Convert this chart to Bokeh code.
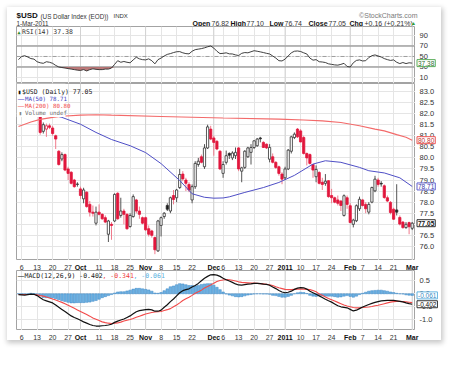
import numpy as np
import pandas as pd
from bokeh.plotting import figure
from bokeh.layouts import column, row
from bokeh.models import FixedTicker, Range1d, Label, BoxAnnotation, Span
from bokeh.embed import file_html
from bokeh.resources import INLINE

# ---------------- data ----------------
dates = pd.bdate_range("2010-09-03", "2011-03-01")

opens = [82.55, 82.35, 82.40, 82.90, 82.60, 82.80, 82.60, 81.90, 81.20, 81.30,
         81.45, 81.35, 81.00, 80.30, 79.95, 80.15, 79.50, 79.35, 79.00, 78.80,
         78.60, 78.15, 78.45, 77.90, 77.55, 77.05, 77.55, 77.45, 77.30, 76.55,
         77.00, 77.15, 78.40, 77.40, 77.60, 77.45, 76.90, 77.35, 78.10, 77.60,
         77.30, 77.30, 76.80, 76.70, 76.40, 75.80, 76.95, 77.35, 77.85, 77.60,
         78.30, 78.20, 78.66, 79.27, 79.00, 78.80, 78.10, 78.70, 79.70, 80.05,
         79.60, 80.45, 81.30, 80.90, 80.75, 80.30, 79.30, 79.80, 80.20, 80.00,
         80.10, 80.45, 79.40, 79.57, 80.05, 80.25, 80.47, 80.55, 80.90, 80.70,
         80.62, 79.94, 80.05, 79.80, 79.60, 79.27, 79.10, 79.50, 80.30, 80.92,
         81.30, 81.22, 80.92, 80.20, 80.15, 79.70, 79.15, 79.34, 78.90, 78.85,
         78.97, 78.30, 78.20, 78.10, 78.05, 77.40, 78.20, 77.84, 77.00, 77.16,
         77.70, 78.10, 77.90, 77.55, 78.00, 78.51, 79.00, 78.85, 78.74, 78.20,
         77.99, 77.68, 77.65, 77.31, 77.10, 76.85, 77.08, 76.82]
highs = [82.75, 82.50, 83.00, 83.05, 82.95, 83.10, 82.65, 81.95, 81.60, 81.55,
         81.55, 81.45, 81.05, 80.35, 80.25, 80.20, 79.60, 79.40, 79.05, 78.90,
         78.70, 78.65, 78.50, 78.05, 77.85, 77.80, 77.90, 77.50, 77.40, 77.20,
         77.10, 78.40, 78.45, 78.20, 77.70, 77.50, 77.50, 78.35, 78.15, 77.80,
         77.35, 77.35, 76.95, 76.75, 76.45, 77.20, 77.35, 77.55, 77.95, 78.25,
         78.55, 78.60, 79.50, 79.40, 79.10, 78.90, 78.80, 79.85, 80.00, 80.15,
         80.62, 81.50, 81.45, 81.00, 80.80, 80.35, 79.85, 80.33, 80.25, 80.30,
         80.47, 80.50, 79.60, 80.35, 80.50, 80.62, 80.80, 80.90, 80.95, 80.75,
         80.65, 80.62, 80.20, 79.85, 79.65, 79.35, 79.60, 80.40, 81.00, 81.15,
         81.35, 81.30, 81.00, 80.24, 80.20, 79.72, 79.66, 79.40, 79.10, 79.27,
         79.00, 78.60, 78.25, 78.30, 78.10, 78.35, 78.30, 77.95, 77.25, 77.90,
         78.25, 78.15, 78.00, 78.00, 78.70, 79.19, 79.10, 78.95, 78.80, 78.30,
         78.05, 77.75, 78.81, 77.40, 77.15, 77.10, 77.12, 77.10]
lows = [82.25, 82.20, 82.35, 82.50, 82.50, 82.60, 81.95, 81.05, 81.10, 80.95,
        81.30, 81.00, 80.40, 79.65, 79.85, 79.40, 79.00, 78.80, 78.65, 78.70,
        78.15, 77.95, 77.75, 77.35, 77.35, 76.95, 77.40, 77.20, 77.05, 76.20,
        76.30, 77.10, 77.20, 77.30, 77.00, 76.75, 76.85, 77.30, 77.50, 77.25,
        77.00, 76.70, 76.45, 76.40, 75.65, 75.75, 76.45, 77.25, 77.60, 77.50,
        77.90, 78.00, 78.60, 78.95, 78.50, 78.45, 77.95, 78.60, 79.60, 79.75,
        79.50, 80.40, 80.80, 80.10, 80.35, 79.45, 79.10, 79.70, 79.95, 79.90,
        79.95, 79.40, 78.90, 79.50, 80.00, 79.70, 80.40, 80.50, 80.70, 80.45,
        80.40, 79.80, 79.75, 79.50, 79.20, 78.81, 79.00, 79.45, 80.20, 80.85,
        80.90, 80.70, 80.15, 79.66, 79.70, 79.10, 78.90, 78.80, 78.55, 78.74,
        78.20, 77.95, 77.95, 77.85, 77.60, 77.35, 77.70, 77.05, 76.86, 77.10,
        77.60, 77.80, 77.50, 77.45, 77.95, 78.45, 78.70, 78.70, 78.15, 78.00,
        77.45, 77.20, 77.40, 76.95, 76.80, 76.80, 76.55, 76.74]
closes = [82.35, 82.40, 82.90, 82.60, 82.80, 82.75, 82.00, 81.15, 81.50, 81.45,
          81.38, 81.10, 80.85, 79.70, 80.15, 79.45, 79.30, 78.85, 78.70, 78.82,
          78.30, 78.55, 77.80, 77.55, 77.50, 77.55, 77.45, 77.25, 77.10, 77.15,
          76.95, 78.35, 77.25, 77.60, 77.45, 76.80, 77.40, 78.25, 77.60, 77.45,
          77.05, 76.75, 76.55, 76.50, 75.85, 77.15, 77.30, 77.50, 77.68, 78.20,
          78.12, 78.55, 79.25, 79.05, 78.85, 78.55, 78.70, 79.75, 79.85, 79.80,
          80.45, 81.40, 80.85, 80.70, 80.40, 79.50, 79.70, 80.10, 80.12, 80.22,
          80.25, 79.50, 79.55, 80.30, 80.45, 80.47, 80.77, 80.85, 80.86, 80.47,
          80.45, 80.47, 79.80, 79.57, 79.30, 79.04, 79.50, 80.35, 80.95, 81.07,
          80.95, 80.72, 80.20, 80.00, 79.75, 79.45, 79.48, 78.85, 78.80, 78.95,
          78.25, 78.20, 78.00, 77.95, 77.85, 78.29, 77.90, 77.08, 77.19, 77.84,
          78.13, 77.85, 77.70, 77.90, 78.66, 79.04, 78.80, 78.82, 78.21, 78.05,
          77.53, 77.23, 77.55, 77.01, 76.85, 77.00, 76.89, 77.05]

ma50_idx = [0, 7, 14, 20, 25, 30, 36, 41, 46, 52, 56, 60, 63, 66, 68, 73, 79, 84,
            89, 95, 99, 104, 110, 113, 118, 123, 127]
ma50_val = [82.25, 82.08, 81.83, 81.52, 81.15, 80.83, 80.55, 80.24, 79.74, 78.98,
            78.38, 78.22, 78.18, 78.19, 78.24, 78.44, 78.66, 78.89, 79.21, 79.72,
            79.87, 79.80, 79.57, 79.42, 79.32, 79.10, 78.71]
ma200_idx = [0, 4, 7, 11, 14, 20, 25, 30, 46, 66, 84, 92, 98, 104, 110, 115, 118,
             122, 125, 127]
ma200_val = [81.42, 81.62, 81.74, 81.83, 81.88, 81.93, 81.95, 81.93, 81.87, 81.80,
             81.75, 81.71, 81.67, 81.60, 81.45, 81.30, 81.22, 81.05, 80.93, 80.80]

rsi14 = [44, 50, 51.5, 49, 46, 45, 40, 38, 37, 40,
         39, 37, 33, 30, 29, 28, 27, 26, 25, 24,
         23.5, 25, 22.5, 25, 26.5, 25.5, 25, 25, 26, 26,
         28, 35, 42, 39, 40.5, 39, 38, 43.5, 48.6, 45.5,
         44, 43.5, 45.5, 42, 36, 44, 47, 51, 54, 55.5,
         57.5, 59, 59.3, 57, 55.5, 55, 60, 63, 64, 65,
         66.5, 68.5, 70, 66, 60, 55.5, 56, 57, 55, 54.8,
         53, 51.8, 56, 57.5, 57, 59, 61, 60, 58.8, 57.5,
         56, 54.8, 51, 47, 42, 41.5, 45, 51, 57, 60,
         60.5, 59.5, 57, 54.8, 47, 43, 44, 40, 39.5, 38.5,
         36, 35, 34, 33.5, 35, 37, 31, 30, 38, 42.5,
         43.5, 41.5, 42, 48, 51.5, 53, 51, 49, 46, 44,
         42.5, 43.5, 39, 36.5, 38.5, 36.5, 38, 37.38]

macd_line = [-0.03, -0.04, -0.05, -0.03, -0.01, -0.02, -0.07, -0.15, -0.23, -0.27,
             -0.31, -0.35, -0.43, -0.52, -0.60, -0.68, -0.77, -0.85, -0.91, -0.96,
             -1.02, -1.08, -1.13, -1.18, -1.22, -1.24, -1.24, -1.23, -1.22, -1.20,
             -1.17, -1.10, -1.05, -1.01, -0.97, -0.91, -0.85, -0.77, -0.69, -0.65,
             -0.63, -0.61, -0.60, -0.62, -0.67, -0.67, -0.63, -0.52, -0.42, -0.30,
             -0.20, -0.08, 0.04, 0.12, 0.16, 0.19, 0.26, 0.32, 0.40, 0.50,
             0.60, 0.67, 0.73, 0.74, 0.72, 0.67, 0.60, 0.54, 0.49, 0.44,
             0.38, 0.34, 0.33, 0.35, 0.37, 0.38, 0.40, 0.40, 0.39, 0.37,
             0.36, 0.33, 0.26, 0.20, 0.13, 0.07, 0.04, 0.06, 0.10, 0.17,
             0.22, 0.24, 0.23, 0.18, 0.10, 0.04, -0.02, -0.08, -0.14, -0.21,
             -0.27, -0.32, -0.39, -0.46, -0.50, -0.52, -0.54, -0.60, -0.66, -0.63,
             -0.57, -0.51, -0.46, -0.41, -0.37, -0.33, -0.30, -0.27, -0.26, -0.25,
             -0.25, -0.25, -0.27, -0.29, -0.31, -0.35, -0.38, -0.402]
macd_signal = [-0.03, -0.03, -0.03, -0.03, -0.03, -0.03, -0.04, -0.07, -0.09, -0.12,
               -0.16, -0.20, -0.24, -0.29, -0.33, -0.38, -0.44, -0.50, -0.56, -0.62,
               -0.68, -0.74, -0.80, -0.86, -0.93, -0.98, -1.03, -1.08, -1.11, -1.13,
               -1.14, -1.13, -1.12, -1.09, -1.05, -1.02, -0.99, -0.95, -0.90, -0.86,
               -0.82, -0.78, -0.75, -0.72, -0.70, -0.69, -0.68, -0.64, -0.61, -0.57,
               -0.50, -0.43, -0.35, -0.26, -0.19, -0.13, -0.06, 0.02, 0.08, 0.14,
               0.22, 0.28, 0.34, 0.41, 0.47, 0.51, 0.53, 0.55, 0.54, 0.52,
               0.49, 0.46, 0.44, 0.43, 0.42, 0.41, 0.41, 0.40, 0.39, 0.38,
               0.37, 0.35, 0.32, 0.27, 0.23, 0.20, 0.17, 0.16, 0.16, 0.17,
               0.18, 0.18, 0.18, 0.17, 0.16, 0.13, 0.08, -0.01, -0.06, -0.12,
               -0.18, -0.23, -0.28, -0.33, -0.38, -0.43, -0.47, -0.50, -0.53, -0.54,
               -0.54, -0.53, -0.52, -0.51, -0.49, -0.46, -0.44, -0.41, -0.38, -0.35,
               -0.32, -0.30, -0.29, -0.29, -0.30, -0.31, -0.325, -0.341]

price_ticks = [76.0, 76.5, 77.0, 77.5, 78.0, 78.5, 79.0, 79.5, 80.0, 80.5,
               81.0, 81.5, 82.0, 82.5, 83.0]
rsi_ticks = [10, 30, 50, 70, 90]
macd_ticks = [0.5, 0.0, -0.5, -1.0]

# ---------------- derived ----------------
n = len(dates)
idx = np.arange(n)
o = np.array(opens); c = np.array(closes)
prev = np.concatenate([[o[0]], c[:-1]])
is_red = c < prev
hollow = c >= o
RED = "#e1163c"
body_line = np.where(is_red, RED, "#2e2e2e")
body_fill = np.where(hollow, "white", np.where(is_red, RED, "#1b1b1b"))
wick_col = np.where(is_red, "#f07a8c", "#555555")
rsi = np.array(rsi14)
hist = np.array(macd_line) - np.array(macd_signal)

mondays = [i for i, d in enumerate(dates) if d.weekday() == 0]
month_starts = [i for i in range(1, n) if dates[i].month != dates[i - 1].month]
day_ticks = [m for m in mondays if min(abs(m - f) for f in month_starts) > 2]
x_ticks = sorted(day_ticks + month_starts)
month_names = [str(dates[i].year) if dates[i].month == 1 else dates[i].strftime("%b")
               for i in month_starts]

# ---------------- geometry helpers (page pixel -> data) ----------------
X0, DX = 26.0, 3.1
def X(xp):
    return (xp - X0) / DX

SIDE_W = 26
x_rng = Range1d(X(24), X(423))
r1 = Range1d(-1.43, 107.1)
r2 = Range1d(75.365, 83.36)
r3 = Range1d(-1.412, 0.896)
H1, H2, H3 = 57, 177, 60

def Y1(yp):
    return r1.end - (yp - 34) * (r1.end - r1.start) / H1
def Y2(yp):
    return r2.end - (yp - 91) * (r2.end - r2.start) / H2
def Y3(yp):
    return r3.end - (yp - 278) * (r3.end - r3.start) / H3

SANS = "Liberation Sans"
MONO = "DejaVu Sans Mono"
GRID = "#e5e5e5"


def lab(p, x, y, text, size=7.0, color="#222222", bold=False, font=SANS,
        align="left", bg=None, border=None, pad=None):
    kw = dict(x=x, y=y, text=text, text_font=font, text_font_size=f"{size}px",
              text_color=color, text_font_style="bold" if bold else "normal",
              text_align=align, text_baseline="middle")
    if bg is not None:
        kw.update(background_fill_color=bg, background_fill_alpha=1.0)
    if border is not None:
        kw.update(border_line_color=border, border_line_width=1)
    if pad is not None:
        kw["padding"] = pad
    p.add_layout(Label(**kw))


def bare(fw, fh, xr, yr, **kw):
    p = figure(frame_width=fw, frame_height=fh, x_range=xr, y_range=yr,
               output_backend="svg", toolbar_location=None,
               x_axis_location=None, y_axis_location=None, **kw)
    p.background_fill_color = "white"
    p.border_fill_color = "white"
    return p


def panel(fh, yr, yticks):
    p = bare(399, fh, x_rng, yr, min_border_left=9, min_border_right=0,
             min_border_top=0, min_border_bottom=0)
    p.outline_line_color = "#a3a3a3"
    p.xgrid.ticker = FixedTicker(ticks=x_ticks)
    p.ygrid.ticker = FixedTicker(ticks=yticks)
    p.xgrid.grid_line_color = GRID
    p.ygrid.grid_line_color = GRID
    for m in month_starts:
        p.add_layout(Span(location=m, dimension="height", line_color="#d2d2d2",
                          line_width=1, level="underlay"))
    return p


def side(fh, yr, yticks, fmt):
    s = bare(SIDE_W, fh, Range1d(423, 423 + SIDE_W), yr, min_border=0)
    s.outline_line_color = None
    s.xgrid.visible = False
    s.ygrid.visible = False
    for t in yticks:
        lab(s, 427, t, fmt % t, size=7.5, color="#333333")
    return s


def strip(fh):
    d = bare(408 + SIDE_W, fh, Range1d(X(15), X(423 + SIDE_W)), Range1d(0, 1), min_border=0)
    d.outline_line_color = None
    d.xgrid.visible = False
    d.ygrid.visible = False
    for i in day_ticks:
        lab(d, i, 0.5, str(dates[i].day), size=7, color="#333333", align="center")
    for m, name in zip(month_starts, month_names):
        lab(d, m, 0.5, name, size=7, bold=True, color="#111111", align="center")
    return d


# ---------------- header ----------------
f0 = bare(408 + SIDE_W, 19, Range1d(15, 423 + SIDE_W), Range1d(34, 15), min_border=0)
f0.outline_line_color = None
f0.xgrid.visible = False
f0.ygrid.visible = False
lab(f0, 24, 23, "$USD", size=8, bold=True, color="#111111")
lab(f0, 48, 23.5, "(US Dollar Index (EOD))", size=6.3, color="#333333")
lab(f0, 121, 23.5, "INDX", size=6, color="#333333")
lab(f0, 24, 30.5, "1-Mar-2011", size=6.3, color="#333333")
hdr = [(200, "Open", True), (219, "76.82", False), (238, "High", True), (254, "77.10", False),
       (277, "Low", True), (292, "76.74", False), (316, "Close", True), (336, "77.05", False),
       (357, "Chg", True), (372, "+0.16 (+0.21%)", False)]
for xp, t, b in hdr:
    lab(f0, xp, 30.5, t, size=7, bold=b, color="#111111" if b else "#333333")
lab(f0, 421, 30.5, "\u25b2", size=5, color="#2c9a2c", align="center")
lab(f0, 425, 23, "\u00a9StockCharts.com", size=7, color="#7a7a7a", align="right")

# ---------------- RSI panel ----------------
f1 = panel(H1, r1, rsi_ticks)
f1.add_layout(Span(location=70, dimension="width", line_color="#a2a2a2", line_width=1.6, level="underlay"))
f1.add_layout(Span(location=30, dimension="width", line_color="#a2a2a2", line_width=1.6, level="underlay"))
f1.add_layout(Span(location=50, dimension="width", line_color="#8c8c8c", line_width=0.8,
                   line_dash="4 2 1 2", level="underlay"))
f1.varea(x=idx, y1=np.minimum(rsi, 30), y2=30, fill_color="#b66d6d", fill_alpha=0.9)
f1.line(idx, rsi, color="#2a2a2a", line_width=0.9)
lab(f1, X(26.5), Y1(39), "\u25b2", size=5, color="#2c8a2c", align="center", font=MONO)
lab(f1, X(29.5), Y1(39), "RSI(14) 37.38", size=6.5, color="#333333", font=MONO)
s1 = side(H1, r1, rsi_ticks, "%d")
lab(s1, 424.5, rsi[-1], f"{rsi[-1]:.2f}", size=6.5, color="#2f6f2f", bg="white",
    border="#5cae5c", pad=1)

# ---------------- price panel ----------------
f2 = panel(H2, r2, price_ticks)
f2.segment(x0=idx, y0=lows, x1=idx, y1=highs, color=wick_col, line_width=1)
f2.vbar(x=idx, width=0.72, top=np.maximum(o, c), bottom=np.minimum(o, c),
        fill_color=body_fill, line_color=body_line, line_width=0.8)
f2.line(ma200_idx, ma200_val, color="#f36a6a", line_width=1.1)
f2.line(ma50_idx, ma50_val, color="#4f4fc6", line_width=1.0)
f2.add_layout(BoxAnnotation(left=x_rng.start, right=X(73), bottom=Y2(124.5), top=r2.end,
                            fill_color="white", fill_alpha=1.0, line_color=None))
lab(f2, X(27), Y2(99.3), "\u25ae", size=6, color="#111111", font=MONO, align="center")
lab(f2, X(29.5), Y2(99.3), f"$USD (Daily) {closes[-1]:.2f}", size=6.5, color="#222222", font=MONO)
lab(f2, X(28.5), Y2(106), "\u2014", size=6.5, color="#4f4fc6", font=SANS, align="center")
lab(f2, X(32.5), Y2(106), f"MA(50) {ma50_val[-1]:.2f}", size=5.8, color="#4040c0", font=MONO)
lab(f2, X(28.5), Y2(113.4), "\u2014", size=6.5, color="#f36a6a", font=SANS, align="center")
lab(f2, X(32.5), Y2(113.4), f"MA(200) {ma200_val[-1]:.2f}", size=5.8, color="#f04848", font=MONO)
lab(f2, X(28), Y2(120.8), "\u25ae", size=5.5, color="#888888", font=MONO, align="center")
lab(f2, X(32.5), Y2(120.8), "Volume undef", size=5.8, color="#6a6a6a", font=MONO)
s2 = side(H2, r2, price_ticks, "%.1f")
lab(s2, 424.5, ma200_val[-1], f"{ma200_val[-1]:.2f}", size=6.5, color="#c03030", bg="white",
    border="#ee5555", pad=1)
lab(s2, 424.5, ma50_val[-1], f"{ma50_val[-1]:.2f}", size=6.5, color="#3a3aa8", bg="white",
    border="#6262d0", pad=1)
lab(s2, 424.5, closes[-1], f"{closes[-1]:.2f}", size=6.5, color="#111111", bold=True,
    bg="white", border="#333333", pad=1)
d2 = strip(10)

# ---------------- MACD panel ----------------
f3 = panel(H3, r3, macd_ticks)
f3.vbar(x=idx, top=hist, bottom=0, width=0.82, fill_color="#6cb1e2",
        line_color="#3f88c6", line_width=0.5)
f3.line(idx, macd_signal, color="#f24a4a", line_width=1.1)
f3.line(idx, macd_line, color="#111111", line_width=1.2)
lab(f3, X(28.5), Y3(283), "\u2014", size=6.5, color="#111111", font=SANS, align="center")
lab(f3, X(32), Y3(283), f"MACD(12,26,9) {macd_line[-1]:.3f}", size=6.5, color="#222222", font=MONO)
lab(f3, X(110), Y3(283), f", {macd_signal[-1]:.3f}", size=6.5, color="#f03c3c", font=MONO)
lab(f3, X(141), Y3(283), f", {hist[-1]:.3f}", size=6.5, color="#58b0e0", font=MONO)
s3 = side(H3, r3, macd_ticks, "%.1f")
lab(s3, 424.5, hist[-1], f"{hist[-1]:.3f}", size=6.5, color="#3a8ac0", bg="white",
    border="#66b4e0", pad=1)
lab(s3, 424.5, macd_line[-1], f"{macd_line[-1]:.3f}", size=6.5, color="#111111", bg="white",
    border="#333333", pad=1)
d3 = strip(10)

layout = column(f0, row(f1, s1), row(f2, s2), d2, row(f3, s3), d3,
                margin=(7, 0, 0, 7),
                styles={"box-shadow": "1px 2px 5px 1px rgba(0,0,0,0.22)"})

open("out.html", "w").write(file_html(layout, INLINE, "USD"))
